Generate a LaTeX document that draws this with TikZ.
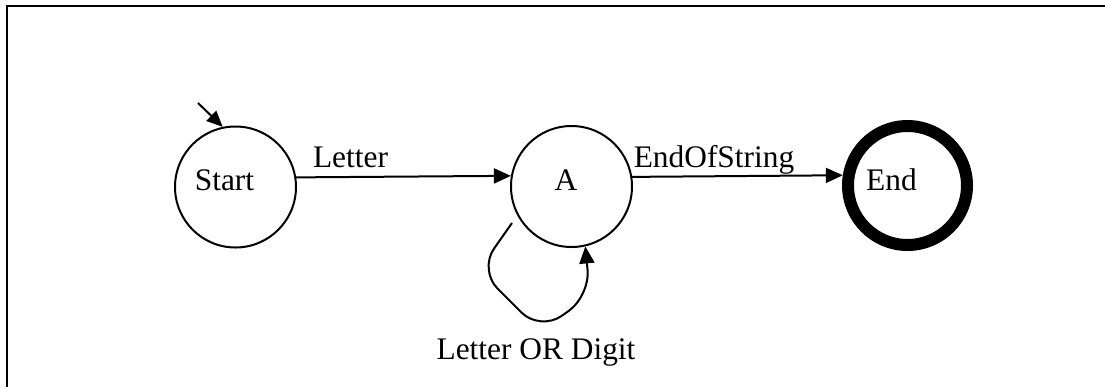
\documentclass[tikz,border=0pt]{standalone}
\usepackage{fontspec}
\setmainfont{Liberation Serif}
\usetikzlibrary{arrows.meta}
\begin{document}
\begin{tikzpicture}[x=0.5pt,y=-0.5pt,
  font=\fontsize{15.7}{18}\selectfont,
  state/.style={circle,draw,line width=1pt,minimum size=60.5pt,inner sep=0pt},
  final/.style={circle,draw,line width=6pt,minimum size=59.5pt,inner sep=0pt},
  trans/.style={line width=1pt,-{Triangle[length=8.5pt,width=7.5pt]}},
  lbl/.style={anchor=base,inner sep=0pt}]
\useasboundingbox (0,0) rectangle (1105,387);
% partial frame
\draw[line width=1pt] (6.7,387) -- (6.7,5.8) -- (1105,5.8);
% states
\node[state] (Start) at (235.5,187) {};
\node[state] (A) at (571.5,186.5) {};
\node[final] (End) at (907.5,185.5) {};
% state names
\node[lbl] (tStart) at (224.5,190.5) {Start};
\node[lbl] (tA) at (566,190.5) {A};
\node[lbl] (tEnd) at (891.5,190) {End};
% initial arrow
\coordinate (init) at (198,103);
\draw[trans,-{Triangle[length=8pt,width=7pt]}] (init) -- (Start.102);
% transitions
\draw[trans] (Start.9.5) -- (A.170.5);
\draw[trans] (A.9.5) -- (End.171.5);
\coordinate (loopstart) at (512,223);
\draw[trans,rounded corners=13pt] (loopstart) -- (479,270) -- (540,331) -- (590,296) -- (A.283);
% labels
\node[lbl] (lLetter) at (350.5,167) {Letter};
\node[lbl] (lEos) at (714,167) {EndOfString};
\node[lbl] (lLoop) at (536,359) {Letter OR Digit};
\end{tikzpicture}
\end{document}
